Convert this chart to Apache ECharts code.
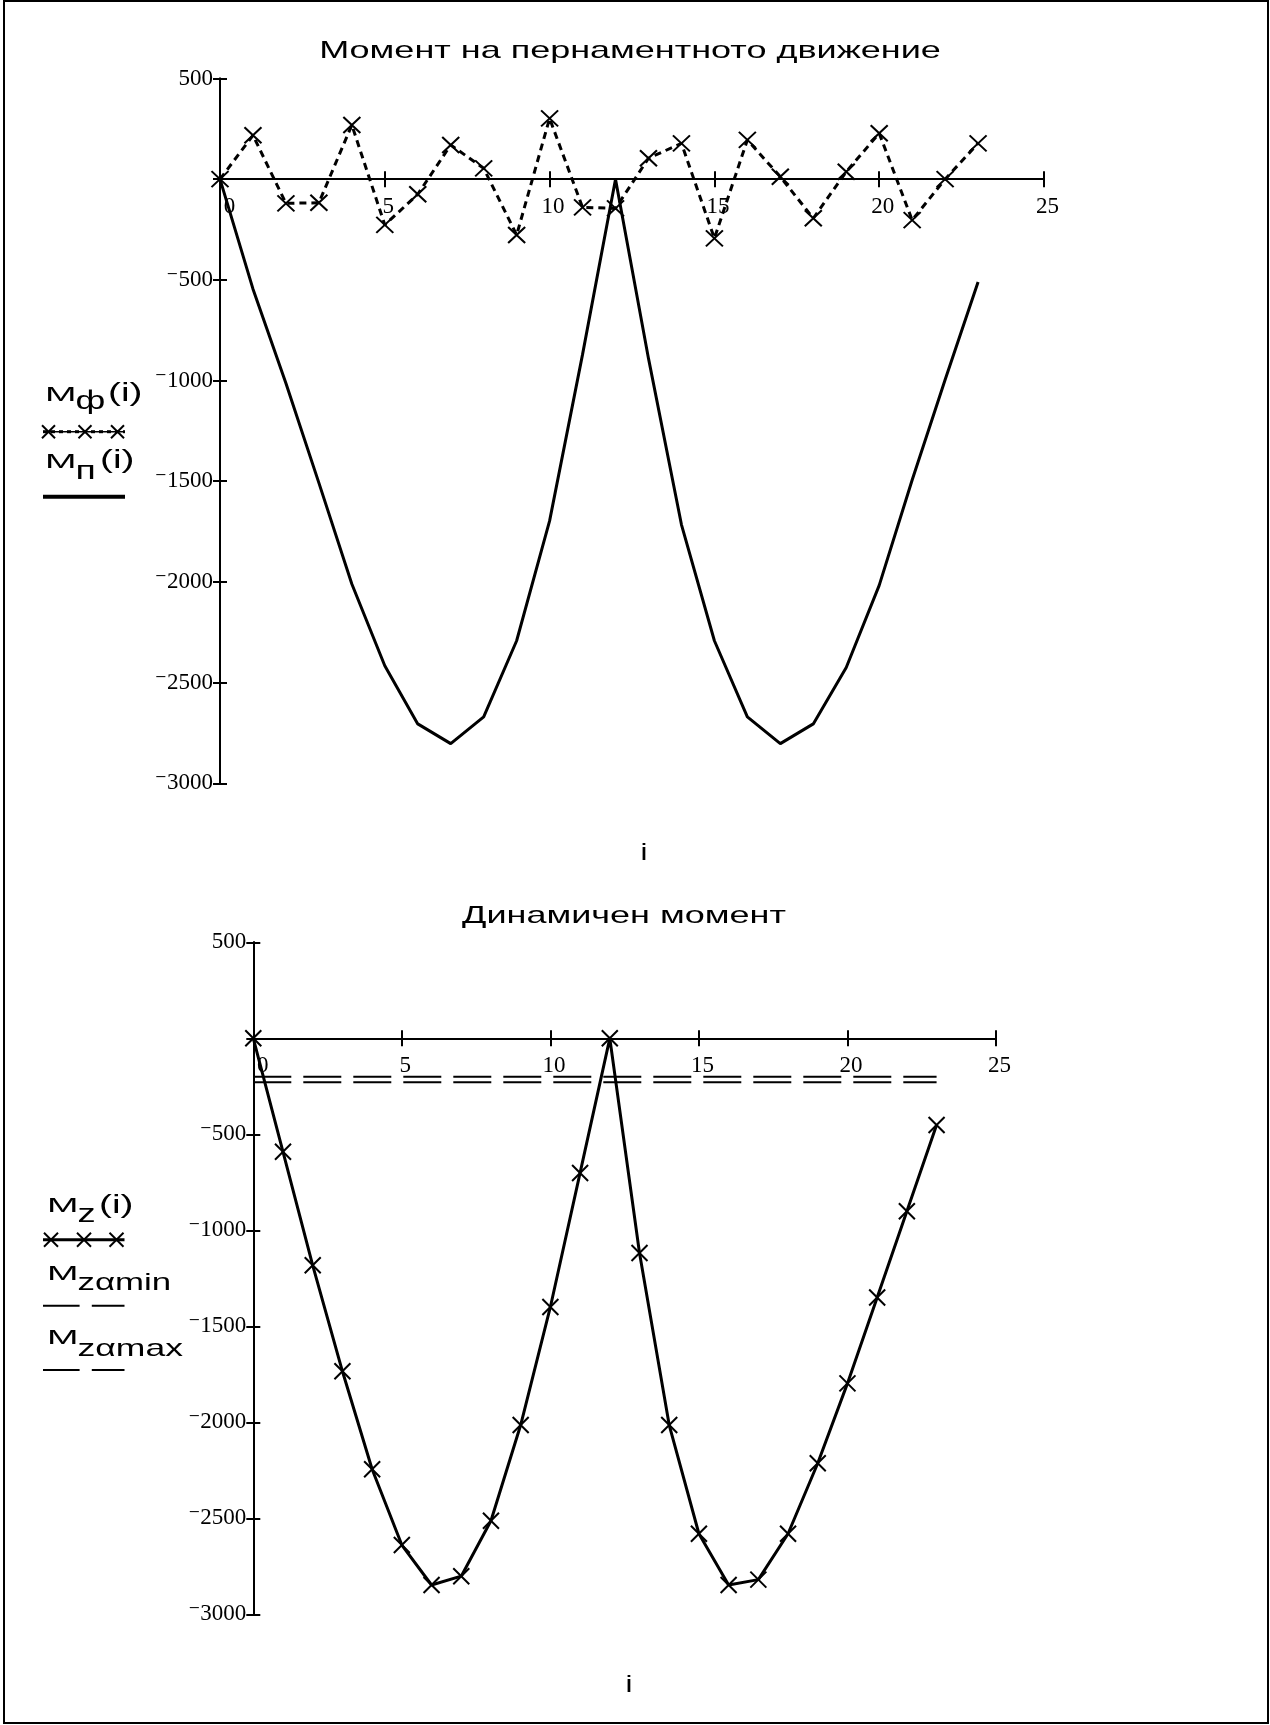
<!DOCTYPE html>
<html>
<head>
<meta charset="utf-8">
<script src="https://cdn.jsdelivr.net/npm/echarts@6/dist/echarts.min.js"></script>
<style>
html,body{margin:0;padding:0;background:#fff;}
#c{width:1270px;height:1725px;}
</style>
</head>
<body>
<div id="c"></div>
<script>
// ---- data ----
const I = [0, 1, 2, 3, 4, 5, 6, 7, 8, 9, 10, 11, 12, 13, 14, 15, 16, 17, 18, 19, 20, 21, 22, 23];
// Chart 1: "Момент на пернаментното движение"
const M_phi = [0, 218, -120, -117, 269, -227, -75, 170, 54, -277, 302, -140, -145, 104, 178, -294, 195, 12, -194, 37, 228, -203, 0, 178];
const M_p = [0, -545, -1013, -1508, -2010, -2416, -2705, -2803, -2670, -2292, -1697, -870, 0, -890, -1715, -2292, -2670, -2803, -2705, -2425, -2017, -1494, -996, -511];
// Chart 2: "Динамичен момент"
const M_z = [0, -591, -1182, -1734, -2244, -2639, -2847, -2801, -2512, -2014, -1399, -701, 0, -1118, -2014, -2580, -2847, -2819, -2580, -2213, -1797, -1350, -901, -451];
const M_zamin = [-229, -229, -229, -229, -229, -229, -229, -229, -229, -229, -229, -229, -229, -229, -229, -229, -229, -229, -229, -229, -229, -229, -229, -229];
const M_zamax = [-200, -200, -200, -200, -200, -200, -200, -200, -200, -200, -200, -200, -200, -200, -200, -200, -200, -200, -200, -200, -200, -200, -200, -200];
const xTicks = [0, 5, 10, 15, 20, 25];
const yTicks = [500, 0, -500, -1000, -1500, -2000, -2500, -3000];
const titles = ['Момент на пернаментното движение', 'Динамичен момент'];

// ---- styling / layout ----
const SERIF = "'Liberation Serif','DejaVu Serif','Times New Roman',serif";
const SANS = "'Liberation Sans',Arial,sans-serif";
const X_SYMBOL = 'path://M0,0L10,10M10,0L0,10';
const GRIDS = [
  { left: 220, top: 78.5, width: 824, height: 704.8 },
  { left: 253.3, top: 942.3, width: 742.7, height: 672.1 }
];

function pairs(ys) { return I.map((x, k) => [x, ys[k]]); }
function yFmt(v) { if (v === 0) return ''; return v < 0 ? '\u207B' + (-v) : String(v); }
function xFmt(v) { return v === 0 ? '{z|0}' : String(v); }

const xMin = xTicks[0], xMax = xTicks[xTicks.length - 1], xInt = xTicks[1] - xTicks[0];
const yMax = yTicks[0], yMin = yTicks[yTicks.length - 1], yInt = yTicks[0] - yTicks[1];

// distance (px) from the grid bottom edge up to the zero line, so x labels sit under the zero axis
function zeroLift(g) { return GRIDS[g].height * (0 - yMin) / (yMax - yMin); }

function xAxes(g) {
  const base = { gridIndex: g, type: 'value', min: xMin, max: xMax, interval: xInt, splitLine: { show: false } };
  return [
    Object.assign({}, base, {
      position: 'bottom',
      axisLine: { onZero: true, onZeroAxisIndex: g * 2, lineStyle: { color: '#000', width: 2 } },
      axisTick: { length: 8, lineStyle: { color: '#000', width: 2 } },
      axisLabel: {
        color: '#000', fontFamily: SERIF, fontSize: 23, margin: 16 - zeroLift(g), padding: [0, 0, 0, 7],
        formatter: xFmt,
        rich: { z: { fontFamily: SERIF, fontSize: 23, color: '#000', padding: [0, 0, 0, 12] } }
      }
    }),
    Object.assign({}, base, {
      position: 'top',
      axisLine: { onZero: true, onZeroAxisIndex: g * 2, lineStyle: { color: '#000', width: 2 } },
      axisTick: { length: 8, lineStyle: { color: '#000', width: 2 } },
      axisLabel: { show: false }
    })
  ];
}
function yAxes(g) {
  const base = { gridIndex: g, type: 'value', min: yMin, max: yMax, interval: yInt, splitLine: { show: false } };
  return [
    Object.assign({}, base, {
      position: 'left',
      axisLine: { onZero: true, onZeroAxisIndex: g * 2, lineStyle: { color: '#000', width: 2 } },
      axisTick: { length: 7, lineStyle: { color: '#000', width: 2 } },
      axisLabel: { color: '#000', fontFamily: SERIF, fontSize: 23, margin: 7, padding: [10, 0, 0, 0], formatter: yFmt }
    }),
    Object.assign({}, base, {
      position: 'right',
      axisLine: { onZero: true, onZeroAxisIndex: g * 2, lineStyle: { color: '#000', width: 2 } },
      axisTick: { length: 7, lineStyle: { color: '#000', width: 2 } },
      axisLabel: { show: false }
    })
  ];
}

// ---- graphic helpers (titles, legend notes, frame) ----
const G = [];
const DY = 4;
function txt(x, baseline, s, size, sx, align) {
  G.push({
    type: 'text', x: x, y: baseline - 0.3465 * size + DY, scaleX: sx, silent: true,
    style: { text: s, fontFamily: SANS, fontSize: size, fill: '#000',
      align: align || 'left', textAlign: align || 'left', verticalAlign: 'middle', textVerticalAlign: 'middle' }
  });
}
function seg(x1, y1, x2, y2, w, dash) {
  G.push({ type: 'line', silent: true, shape: { x1: x1, y1: y1, x2: x2, y2: y2 },
    style: { stroke: '#000', lineWidth: w, lineDash: dash || null } });
}
function xmark(cx, cy, h) {
  seg(cx - h, cy - h, cx + h, cy + h, 2);
  seg(cx + h, cy - h, cx - h, cy + h, 2);
}
// frame
G.push({ type: 'rect', silent: true, shape: { x: 4, y: 1, width: 1264, height: 1722 }, style: { fill: 'none', stroke: '#000', lineWidth: 2 } });
// titles
txt(630, 56, titles[0], 24, 1.5, 'center');
txt(624, 921, titles[1], 24, 1.5, 'center');
// axis names "i"
txt(644, 858, 'i', 24, 1.3, 'center');
txt(629, 1690, 'i', 24, 1.3, 'center');
// top legend
txt(45, 398, 'M', 21, 1.8); txt(75.5, 407, 'ф', 25, 1.45); txt(108, 399, '(i)', 25, 1.55);
seg(43, 431.7, 125, 431.7, 3, [4, 4]);
xmark(48.5, 431.7, 6.5); xmark(85, 431.7, 6.5); xmark(117.5, 431.7, 6.5);
seg(43, 431.7, 125, 431.7, 1.5);
txt(45, 465, 'M', 21, 1.8); txt(75.5, 477, 'п', 25, 1.5); txt(100, 466, '(i)', 25, 1.55);
seg(43, 496.7, 125, 496.7, 4);
// bottom legend
txt(47, 1209.5, 'M', 21, 1.8); txt(77.5, 1220, 'z', 25, 1.45); txt(99, 1210.5, '(i)', 25, 1.55);
seg(43, 1239.8, 124.5, 1239.8, 3);
xmark(51, 1239.8, 7); xmark(84, 1239.8, 7); xmark(116.5, 1239.8, 7);
txt(47, 1277, 'M', 21, 1.8); txt(77.5, 1288, 'zαmin', 24, 1.45);
seg(43, 1305.8, 124.5, 1305.8, 2, [36.6, 12.2]);
txt(47, 1341.6, 'M', 21, 1.8); txt(77.5, 1354, 'zαmax', 24, 1.48);
seg(43, 1370, 124.5, 1370, 2, [36.6, 12.2]);

const option = {
  animation: false,
  backgroundColor: '#fff',
  grid: GRIDS,
  xAxis: xAxes(0).concat(xAxes(1)),
  yAxis: yAxes(0).concat(yAxes(1)),
  series: [
    { name: 'Mп(i)', type: 'line', xAxisIndex: 0, yAxisIndex: 0, data: pairs(M_p), showSymbol: false,
      lineStyle: { color: '#000', width: 3 }, z: 3 },
    { name: 'Mф(i)', type: 'line', xAxisIndex: 0, yAxisIndex: 0, data: pairs(M_phi),
      symbol: X_SYMBOL, symbolSize: [17, 16],
      itemStyle: { color: '#000', borderColor: '#000', borderWidth: 2 },
      lineStyle: { color: '#000', width: 3, type: [7, 5] }, z: 4 },
    { name: 'Mzαmin', type: 'line', xAxisIndex: 2, yAxisIndex: 2, data: pairs(M_zamin), showSymbol: false,
      lineStyle: { color: '#000', width: 2, type: [38, 12] }, z: 2 },
    { name: 'Mzαmax', type: 'line', xAxisIndex: 2, yAxisIndex: 2, data: pairs(M_zamax), showSymbol: false,
      lineStyle: { color: '#000', width: 2, type: [38, 12] }, z: 2 },
    { name: 'Mz(i)', type: 'line', xAxisIndex: 2, yAxisIndex: 2, data: pairs(M_z),
      symbol: X_SYMBOL, symbolSize: [16, 16],
      itemStyle: { color: '#000', borderColor: '#000', borderWidth: 2 },
      lineStyle: { color: '#000', width: 3 }, z: 4 }
  ],
  graphic: G
};

const chart = echarts.init(document.getElementById('c'), null, { renderer: 'canvas' });
chart.setOption(option);
</script>
</body>
</html>
